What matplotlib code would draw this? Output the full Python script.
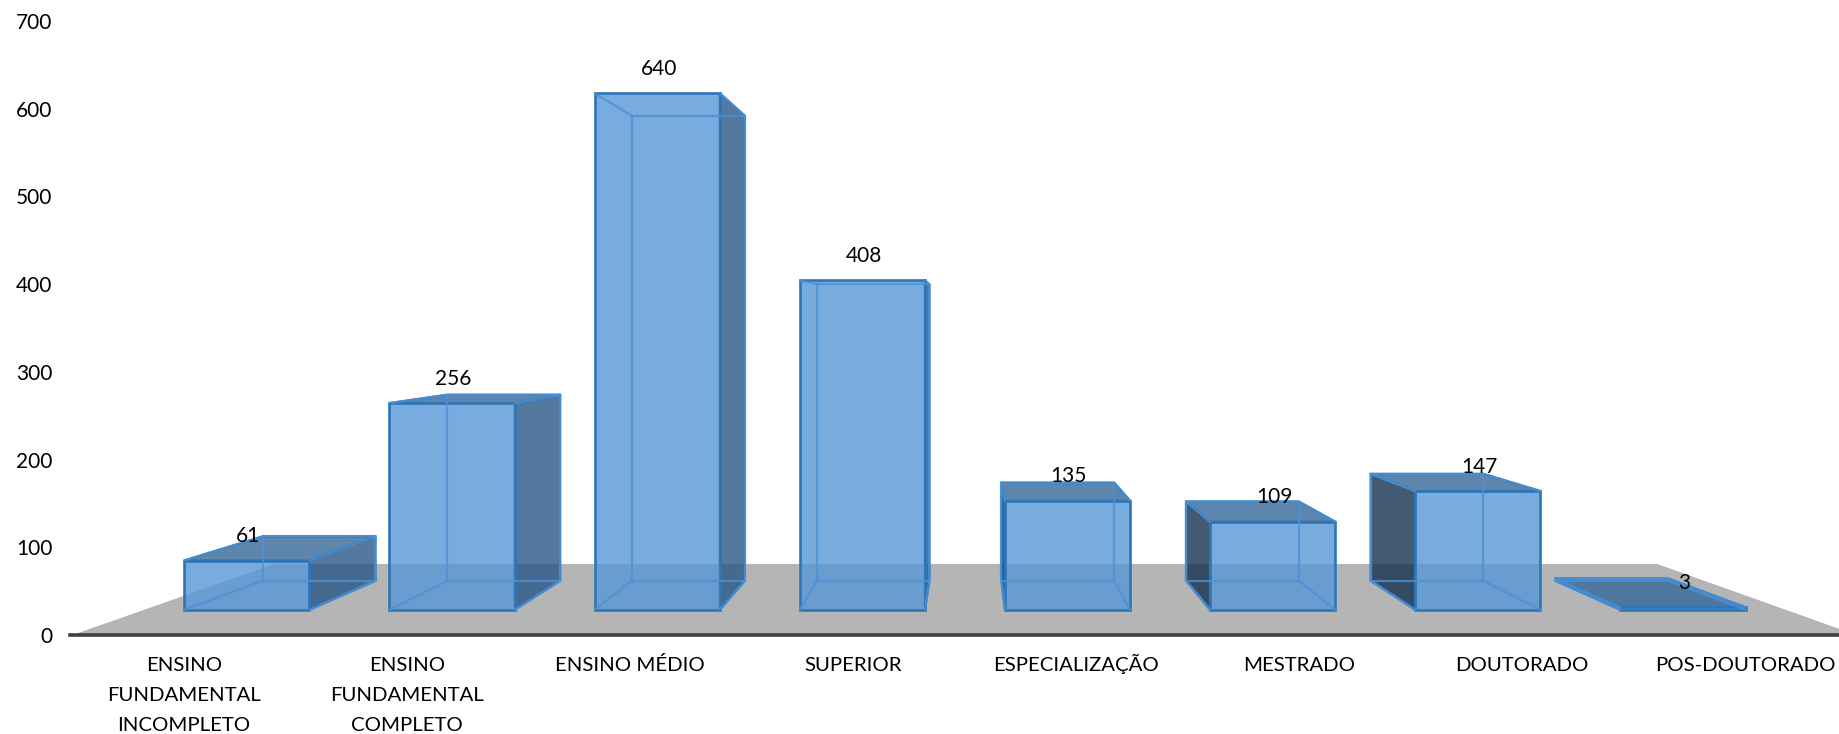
import matplotlib
matplotlib.use("Agg")
import matplotlib.pyplot as plt
from matplotlib.colors import to_rgba

# data
categories = ["ENSINO\nFUNDAMENTAL\nINCOMPLETO", "ENSINO\nFUNDAMENTAL\nCOMPLETO", "ENSINO MÉDIO",
              "SUPERIOR", "ESPECIALIZAÇÃO", "MESTRADO", "DOUTORADO", "POS-DOUTORADO"]
values = [61, 256, 640, 408, 135, 109, 147, 3]
yticks = [0, 100, 200, 300, 400, 500, 600, 700]

# perspective of the fake 3D box
VANISH_X = 3.525
VANISH_Y = 360
FRONT = 0.92
BACK = 0.828
FLOOR_BACK = 0.775
HALF_WIDTH = 0.305

LINE = "#2E75B6"
INNER = "#4C91D6"
plt.rcParams["font.family"] = ["Lato", "DejaVu Sans"]


def project(x, y, scale):
    return VANISH_X + scale * (x - VANISH_X), VANISH_Y + scale * (y - VANISH_Y)


def face(ax, points, color, zorder):
    xs = [p[0] for p in points]
    ys = [p[1] for p in points]
    ax.fill(xs, ys, facecolor=to_rgba(color, 0.8), edgecolor=LINE, linewidth=1.7,
            joinstyle="round", zorder=zorder)


def draw_bar(ax, i, value):
    left, right = i - HALF_WIDTH, i + HALF_WIDTH

    # corners: f = front, b = back, l/r = left/right, 0 = base, 1 = top
    fl0 = project(left, 0, FRONT)
    fr0 = project(right, 0, FRONT)
    fl1 = project(left, value, FRONT)
    fr1 = project(right, value, FRONT)
    bl0 = project(left, 0, BACK)
    br0 = project(right, 0, BACK)
    bl1 = project(left, value, BACK)
    br1 = project(right, value, BACK)

    # only the side turned to the viewer gets a fill
    if br0[0] > fr0[0]:
        face(ax, [fr0, br0, br1, fr1], "#295686", 3)
    if bl0[0] < fl0[0]:
        face(ax, [fl0, bl0, bl1, fl1], "#15314F", 3)

    # top is seen from above only below the horizon
    if value < VANISH_Y:
        face(ax, [fl1, fr1, br1, bl1], "#366898", 4)

    ax.bar((fl0[0] + fr0[0]) / 2, fl1[1] - fl0[1], width=fr0[0] - fl0[0], bottom=fl0[1],
           facecolor=to_rgba("#5698D8", 0.8), edgecolor=LINE, linewidth=1.9, zorder=5)

    # edges of the box seen through the glass
    for a, b in [(bl0, br0), (br0, br1), (bl0, bl1), (bl1, br1), (fl0, bl0), (fr0, br0), (fl1, bl1), (fr1, br1)]:
        ax.plot([a[0], b[0]], [a[1], b[1]], color=INNER, linewidth=1.6, alpha=0.8,
                solid_capstyle="round", zorder=6)

    ax.annotate(str(value), (fl1[0] / 2 + fr1[0] / 2, fl1[1]), xytext=(1, 17.5), textcoords="offset points",
                ha="center", va="center", fontsize=15, color="black", zorder=8)


fig = plt.figure(figsize=(18.4, 7.34), dpi=100)
ax = fig.add_axes([70 / 1840, 99 / 734, 1770 / 1840, 614 / 734])

ax.set_xlim(-0.511, 7.426)
ax.set_ylim(0, 700)

# grey floor
floor = [project(-0.5, 0, 1), project(7.5, 0, 1), project(7.5, 0, FLOOR_BACK), project(-0.5, 0, FLOOR_BACK)]
ax.fill([p[0] for p in floor], [p[1] for p in floor], color="#B5B5B5", linewidth=0, zorder=1)

for i, value in enumerate(values):
    draw_bar(ax, i, value)

# all labels get three lines so the first lines share one baseline
labels = [c + "\n" * (2 - c.count("\n")) for c in categories]
ax.set_xticks(range(len(categories)))
ax.set_xticklabels(labels, fontsize=14.7, linespacing=1.91, va="baseline")
ax.set_yticks(yticks)
ax.tick_params(axis="x", length=0, pad=69)
ax.tick_params(axis="y", length=0, pad=12.5, labelsize=15)

for side in ["left", "right", "top"]:
    ax.spines[side].set_visible(False)
ax.spines["bottom"].set_color("#404040")
ax.spines["bottom"].set_linewidth(2.6)
ax.spines["bottom"].set_zorder(7)

fig.savefig("out.png", dpi=100, facecolor="white")
